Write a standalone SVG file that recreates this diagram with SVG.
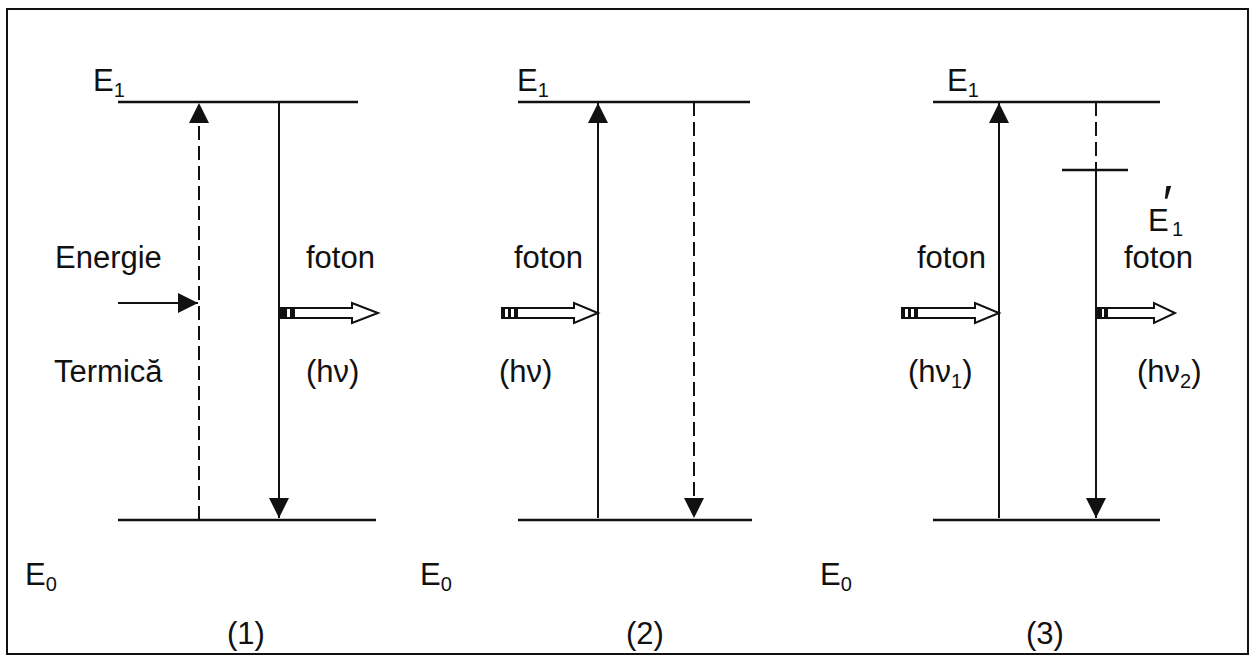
<svg xmlns="http://www.w3.org/2000/svg" width="1256" height="656" viewBox="0 0 1256 656">
<style>
text{font-family:"Liberation Sans",Arial,sans-serif;font-size:31px;fill:#111}
.sub{font-size:20px}
.lvl{stroke:#111;stroke-width:2.5;fill:none}
.sol{stroke:#111;stroke-width:2;fill:none}
.dash{stroke:#111;stroke-width:2;fill:none;stroke-dasharray:14 6}
.hol{stroke:#111;stroke-width:2;fill:#fff}
</style>
<defs>
<marker id="ah" viewBox="0 0 10 10" refX="10" refY="5" markerWidth="20" markerHeight="20" markerUnits="userSpaceOnUse" orient="auto"><path d="M0,0 L10,5 L0,10 Z" fill="#111"/></marker>
</defs>
<rect x="7" y="9" width="1241" height="645" fill="#fff" stroke="#111" stroke-width="2"/>
<g id="panel1">
<text x="93" y="91">E<tspan class="sub" dy="6">1</tspan></text>
<text x="25" y="585">E<tspan class="sub" dy="6">0</tspan></text>
<line class="lvl" x1="118" y1="102" x2="358" y2="102"/>
<line class="lvl" x1="118" y1="520" x2="376" y2="520"/>
<text x="55" y="268">Energie</text>
<text x="54" y="382">Termică</text>
<text x="306" y="268">foton</text>
<text x="306" y="382">(hν)</text>
<text x="227" y="644">(1)</text>
</g>
<g id="panel2">
<text x="517" y="91">E<tspan class="sub" dy="6">1</tspan></text>
<text x="420" y="585">E<tspan class="sub" dy="6">0</tspan></text>
<line class="lvl" x1="518" y1="102" x2="750" y2="102"/>
<line class="lvl" x1="518" y1="520" x2="752" y2="520"/>
<text x="514" y="268">foton</text>
<text x="499" y="382">(hν)</text>
<text x="626" y="644">(2)</text>
</g>
<g id="panel3">
<text x="947" y="91">E<tspan class="sub" dy="6">1</tspan></text>
<text x="820" y="585">E<tspan class="sub" dy="6">0</tspan></text>
<line class="lvl" x1="933" y1="102" x2="1160" y2="102"/>
<line class="lvl" x1="933" y1="520" x2="1160" y2="520"/>
<line class="lvl" x1="1062" y1="170" x2="1128" y2="170"/>
<text x="1148" y="231">E<tspan dx="-6" dy="-10" style="font-size:50px">′</tspan><tspan class="sub" dx="0" dy="15">1</tspan></text>
<text x="917" y="268">foton</text>
<text x="1124" y="268">foton</text>
<text x="908" y="382">(hν<tspan class="sub" dy="6">1</tspan><tspan dy="-6">)</tspan></text>
<text x="1137" y="382">(hν<tspan class="sub" dy="6">2</tspan><tspan dy="-6">)</tspan></text>
<text x="1026" y="644">(3)</text>
</g>
<g id="connectors">
<line class="dash" x1="199" y1="520" x2="199" y2="103" marker-end="url(#ah)"/>
<line class="sol" x1="279" y1="102" x2="279" y2="518" marker-end="url(#ah)"/>
<line class="sol" x1="118" y1="303" x2="198" y2="303" marker-end="url(#ah)"/>
<line class="sol" x1="598" y1="518" x2="598" y2="103" marker-end="url(#ah)"/>
<line class="dash" x1="694" y1="102" x2="694" y2="518" marker-end="url(#ah)"/>
<line class="sol" x1="999" y1="518" x2="999" y2="103" marker-end="url(#ah)"/>
<line class="dash" x1="1096" y1="102" x2="1096" y2="170"/>
<line class="sol" x1="1096" y1="170" x2="1096" y2="518" marker-end="url(#ah)"/>
<path class="hol" d="M280,308 H352 V303 L378,313 L352,323 V318 H280 Z"/>
<rect x="280" y="308" width="7" height="10" fill="#111"/><rect x="290" y="308" width="5" height="10" fill="#111"/>
<path class="hol" d="M502,308 H574 V303 L598,313 L574,323 V318 H502 Z"/>
<rect x="502" y="308" width="3" height="10" fill="#111"/><rect x="508" y="308" width="3" height="10" fill="#111"/><rect x="514" y="308" width="4" height="10" fill="#111"/>
<path class="hol" d="M902,308 H975 V303 L999,313 L975,323 V318 H902 Z"/>
<rect x="902" y="308" width="3" height="10" fill="#111"/><rect x="908" y="308" width="3" height="10" fill="#111"/><rect x="914" y="308" width="4" height="10" fill="#111"/>
<path class="hol" d="M1097,308 H1154 V303 L1175,313 L1154,323 V318 H1097 Z"/>
<rect x="1097" y="308" width="5" height="10" fill="#111"/><rect x="1104" y="308" width="4" height="10" fill="#111"/>
</g>
</svg>
